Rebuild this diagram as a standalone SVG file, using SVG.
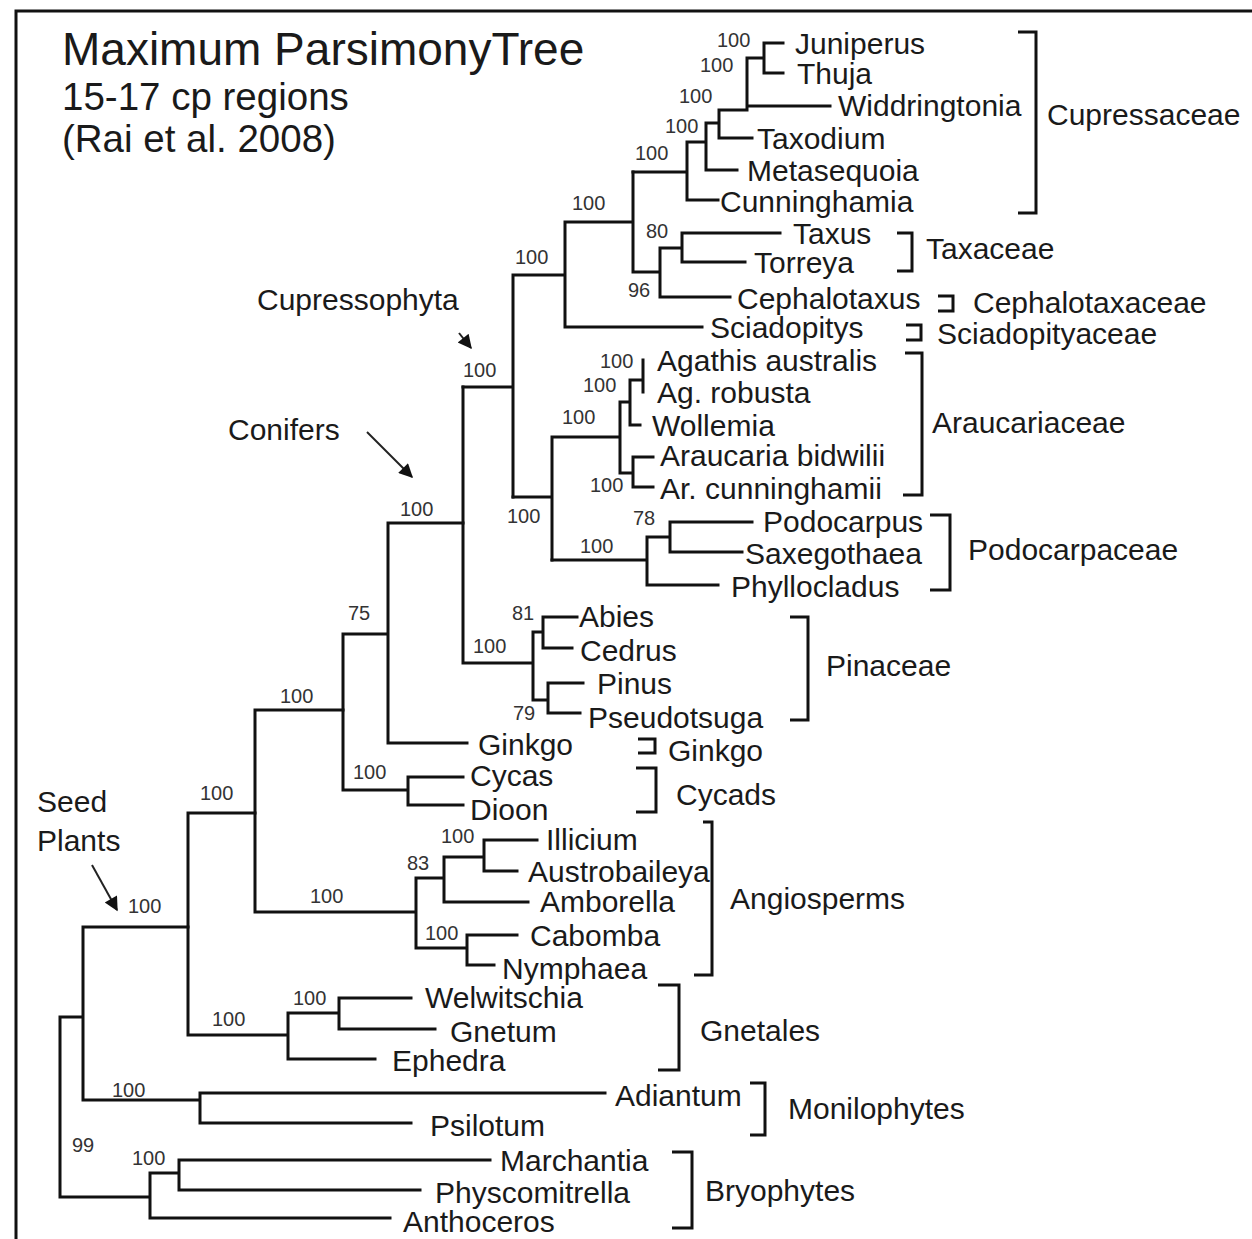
<svg xmlns="http://www.w3.org/2000/svg" width="1252" height="1239" viewBox="0 0 1252 1239">
<style>
text{font-family:"Liberation Sans",Arial,sans-serif;fill:#1a1a1a}
.t{font-size:30px}
.g{font-size:30px}
.s{font-size:20px;fill:#333}
.h1{font-size:46px}
.h2{font-size:38.5px}
.a{font-size:30px}
.ln{fill:none;stroke:#111;stroke-width:3;stroke-linecap:square}
.br{fill:none;stroke:#111;stroke-width:3}
.ar{fill:none;stroke:#222;stroke-width:2}
</style>
<defs>
<marker id="ah" viewBox="0 0 10 10" refX="9" refY="5" markerWidth="16" markerHeight="14" markerUnits="userSpaceOnUse" orient="auto">
<path d="M0,0 L10,5 L0,10 Z" fill="#111"/>
</marker>
</defs>
<rect width="1252" height="1239" fill="#fff"/>
<path d="M16,1239 V11 H1252" fill="none" stroke="#111" stroke-width="3"/>
<g id="title">
<text class="h1" x="62" y="65">Maximum ParsimonyTree</text>
<text class="h2" x="62" y="110">15-17 cp regions</text>
<text class="h2" x="62" y="152">(Rai et al. 2008)</text>
</g>
<g id="connectors">
<path class="ln" d="M764,43 H783 M764,73 H783 M764,43 V73 M747,58 H764 M747,106 H830 M747,58 V110 M719,110 H747 M719,138 H752 M719,110 V138 M706,123 H719 M706,170 H737 M706,123 V170 M687,142 H706 M687,200 H718 M687,142 V200 M633,172 H687"/>
<path class="ln" d="M633,172 V272 M633,272 H660 M660,248 V297 M660,297 H730 M660,248 H682 M682,233 V262 M682,233 H780 M682,262 H745 M565,222 H633 M565,222 V327 M565,327 H702 M513,275 H565 M513,275 V497 M463,387 H513"/>
<path class="ln" d="M513,497 H552 M552,437 V560 M552,437 H620 M620,402 V473 M620,402 H630 M630,380 V425 M630,425 H640 M630,380 H643 M643,360 V392 M620,473 H633 M633,457 V487 M633,457 H653 M633,487 H653"/>
<path class="ln" d="M552,560 H647 M647,537 V585 M647,585 H718 M647,537 H670 M670,522 V552 M670,522 H752 M670,552 H742"/>
<path class="ln" d="M463,387 V663 M463,663 H533 M533,632 V700 M533,632 H543 M543,617 V648 M543,617 H577 M543,648 H572 M533,700 H548 M548,683 V713 M548,683 H583 M548,713 H580"/>
<path class="ln" d="M388,523 H463 M388,523 V743 M388,743 H467 M343,634 H388 M343,634 V790 M343,790 H408 M408,777 V805 M408,777 H463 M408,805 H463"/>
<path class="ln" d="M255,710 H343 M255,710 V912 M255,912 H416 M416,878 V948 M416,878 H444 M444,857 V902 M444,902 H528 M444,857 H484 M484,840 V871 M484,840 H537 M484,871 H517 M416,948 H467 M467,935 V965 M467,935 H517 M467,965 H494"/>
<path class="ln" d="M188,813 H255 M188,813 V1035 M188,1035 H288 M288,1013 V1059 M288,1059 H375 M288,1013 H339 M339,998 V1029 M339,998 H411 M339,1029 H435"/>
<path class="ln" d="M83,927 H188 M83,927 V1100 M83,1100 H200 M200,1093 V1123 M200,1093 H605 M200,1123 H411 M60,1017 H83 M60,1017 V1197 M60,1197 H150 M150,1173 V1218 M150,1218 H390 M150,1173 H179 M179,1160 V1190 M179,1160 H490 M179,1190 H420"/>
<line class="ar" x1="459" y1="333" x2="471" y2="348" marker-end="url(#ah)"/>
<line class="ar" x1="367" y1="432" x2="412" y2="477" marker-end="url(#ah)"/>
<line class="ar" x1="92" y1="865" x2="117" y2="910" marker-end="url(#ah)"/>
</g>
<g id="support" class="s">
<text class="s" x="717" y="47">100</text>
<text class="s" x="700" y="72">100</text>
<text class="s" x="679" y="103">100</text>
<text class="s" x="665" y="133">100</text>
<text class="s" x="635" y="160">100</text>
<text class="s" x="572" y="210">100</text>
<text class="s" x="646" y="238">80</text>
<text class="s" x="628" y="297">96</text>
<text class="s" x="515" y="264">100</text>
<text class="s" x="463" y="377">100</text>
<text class="s" x="600" y="368">100</text>
<text class="s" x="583" y="392">100</text>
<text class="s" x="562" y="424">100</text>
<text class="s" x="590" y="492">100</text>
<text class="s" x="507" y="523">100</text>
<text class="s" x="633" y="525">78</text>
<text class="s" x="580" y="553">100</text>
<text class="s" x="400" y="516">100</text>
<text class="s" x="512" y="620">81</text>
<text class="s" x="473" y="653">100</text>
<text class="s" x="513" y="720">79</text>
<text class="s" x="348" y="620">75</text>
<text class="s" x="280" y="703">100</text>
<text class="s" x="353" y="779">100</text>
<text class="s" x="200" y="800">100</text>
<text class="s" x="310" y="903">100</text>
<text class="s" x="441" y="843">100</text>
<text class="s" x="407" y="870">83</text>
<text class="s" x="425" y="940">100</text>
<text class="s" x="128" y="913">100</text>
<text class="s" x="293" y="1005">100</text>
<text class="s" x="212" y="1026">100</text>
<text class="s" x="112" y="1097">100</text>
<text class="s" x="72" y="1152">99</text>
<text class="s" x="132" y="1165">100</text>
</g>
<g id="taxa">
<g id="n-juniperus"><text class="t" x="795" y="54">Juniperus</text></g>
<g id="n-thuja"><text class="t" x="797" y="84">Thuja</text></g>
<g id="n-widdringtonia"><text class="t" x="838" y="116">Widdringtonia</text></g>
<g id="n-taxodium"><text class="t" x="757" y="149">Taxodium</text></g>
<g id="n-metasequoia"><text class="t" x="747" y="181">Metasequoia</text></g>
<g id="n-cunninghamia"><text class="t" x="720" y="212">Cunninghamia</text></g>
<g id="n-taxus"><text class="t" x="793" y="244">Taxus</text></g>
<g id="n-torreya"><text class="t" x="754" y="273">Torreya</text></g>
<g id="n-cephalotaxus"><text class="t" x="737" y="309">Cephalotaxus</text></g>
<g id="n-sciadopitys"><text class="t" x="710" y="338">Sciadopitys</text></g>
<g id="n-agathis"><text class="t" x="657" y="371">Agathis australis</text></g>
<g id="n-agrobusta"><text class="t" x="657" y="403">Ag. robusta</text></g>
<g id="n-wollemia"><text class="t" x="652" y="436">Wollemia</text></g>
<g id="n-araucaria"><text class="t" x="660" y="466">Araucaria bidwilii</text></g>
<g id="n-arcunninghamii"><text class="t" x="660" y="499">Ar. cunninghamii</text></g>
<g id="n-podocarpus"><text class="t" x="763" y="532">Podocarpus</text></g>
<g id="n-saxegothaea"><text class="t" x="745" y="564">Saxegothaea</text></g>
<g id="n-phyllocladus"><text class="t" x="731" y="597">Phyllocladus</text></g>
<g id="n-abies"><text class="t" x="579" y="627">Abies</text></g>
<g id="n-cedrus"><text class="t" x="580" y="661">Cedrus</text></g>
<g id="n-pinus"><text class="t" x="597" y="694">Pinus</text></g>
<g id="n-pseudotsuga"><text class="t" x="588" y="728">Pseudotsuga</text></g>
<g id="n-ginkgo"><text class="t" x="478" y="755">Ginkgo</text></g>
<g id="n-cycas"><text class="t" x="470" y="786">Cycas</text></g>
<g id="n-dioon"><text class="t" x="470" y="820">Dioon</text></g>
<g id="n-illicium"><text class="t" x="546" y="850">Illicium</text></g>
<g id="n-austrobaileya"><text class="t" x="528" y="882">Austrobaileya</text></g>
<g id="n-amborella"><text class="t" x="540" y="912">Amborella</text></g>
<g id="n-cabomba"><text class="t" x="530" y="946">Cabomba</text></g>
<g id="n-nymphaea"><text class="t" x="502" y="979">Nymphaea</text></g>
<g id="n-welwitschia"><text class="t" x="425" y="1008">Welwitschia</text></g>
<g id="n-gnetum"><text class="t" x="450" y="1042">Gnetum</text></g>
<g id="n-ephedra"><text class="t" x="392" y="1071">Ephedra</text></g>
<g id="n-adiantum"><text class="t" x="615" y="1106">Adiantum</text></g>
<g id="n-psilotum"><text class="t" x="430" y="1136">Psilotum</text></g>
<g id="n-marchantia"><text class="t" x="500" y="1171">Marchantia</text></g>
<g id="n-physcomitrella"><text class="t" x="435" y="1203">Physcomitrella</text></g>
<g id="n-anthoceros"><text class="t" x="403" y="1232">Anthoceros</text></g>
</g>
<g id="groups">
<g id="grp-cupressaceae"><path class="br" d="M1018,32 H1036 V213 H1018"/><text class="g" x="1047" y="125">Cupressaceae</text></g>
<g id="grp-taxaceae"><path class="br" d="M897,233 H912 V271 H897"/><text class="g" x="926" y="259">Taxaceae</text></g>
<g id="grp-cephalotaxaceae"><path class="br" d="M938,296 H953 V311 H938"/><text class="g" x="973" y="313">Cephalotaxaceae</text></g>
<g id="grp-sciadopityaceae"><path class="br" d="M906,325 H921 V340 H906"/><text class="g" x="937" y="344">Sciadopityaceae</text></g>
<g id="grp-araucariaceae"><path class="br" d="M905,353 H922 V495 H903"/><text class="g" x="932" y="433">Araucariaceae</text></g>
<g id="grp-podocarpaceae"><path class="br" d="M930,515 H950 V590 H930"/><text class="g" x="968" y="560">Podocarpaceae</text></g>
<g id="grp-pinaceae"><path class="br" d="M790,617 H808 V720 H790"/><text class="g" x="826" y="676">Pinaceae</text></g>
<g id="grp-ginkgo"><path class="br" d="M638,739 H655 V753 H638"/><text class="g" x="668" y="761">Ginkgo</text></g>
<g id="grp-cycads"><path class="br" d="M636,768 H656 V812 H636"/><text class="g" x="676" y="805">Cycads</text></g>
<g id="grp-angiosperms"><path class="br" d="M703,822 H712 V975 H694"/><text class="g" x="730" y="909">Angiosperms</text></g>
<g id="grp-gnetales"><path class="br" d="M658,985 H679 V1070 H658"/><text class="g" x="700" y="1041">Gnetales</text></g>
<g id="grp-monilophytes"><path class="br" d="M750,1083 H765 V1135 H750"/><text class="g" x="788" y="1119">Monilophytes</text></g>
<g id="grp-bryophytes"><path class="br" d="M672,1152 H692 V1228 H672"/><text class="g" x="705" y="1201">Bryophytes</text></g>
</g>
<g id="annotations">
<g id="ann-cupressophyta"><text class="a" x="257" y="310">Cupressophyta</text></g>
<g id="ann-conifers"><text class="a" x="228" y="440">Conifers</text></g>
<g id="ann-seed"><text class="a" x="37" y="812">Seed</text><text class="a" x="37" y="851">Plants</text></g>
</g>
</svg>
